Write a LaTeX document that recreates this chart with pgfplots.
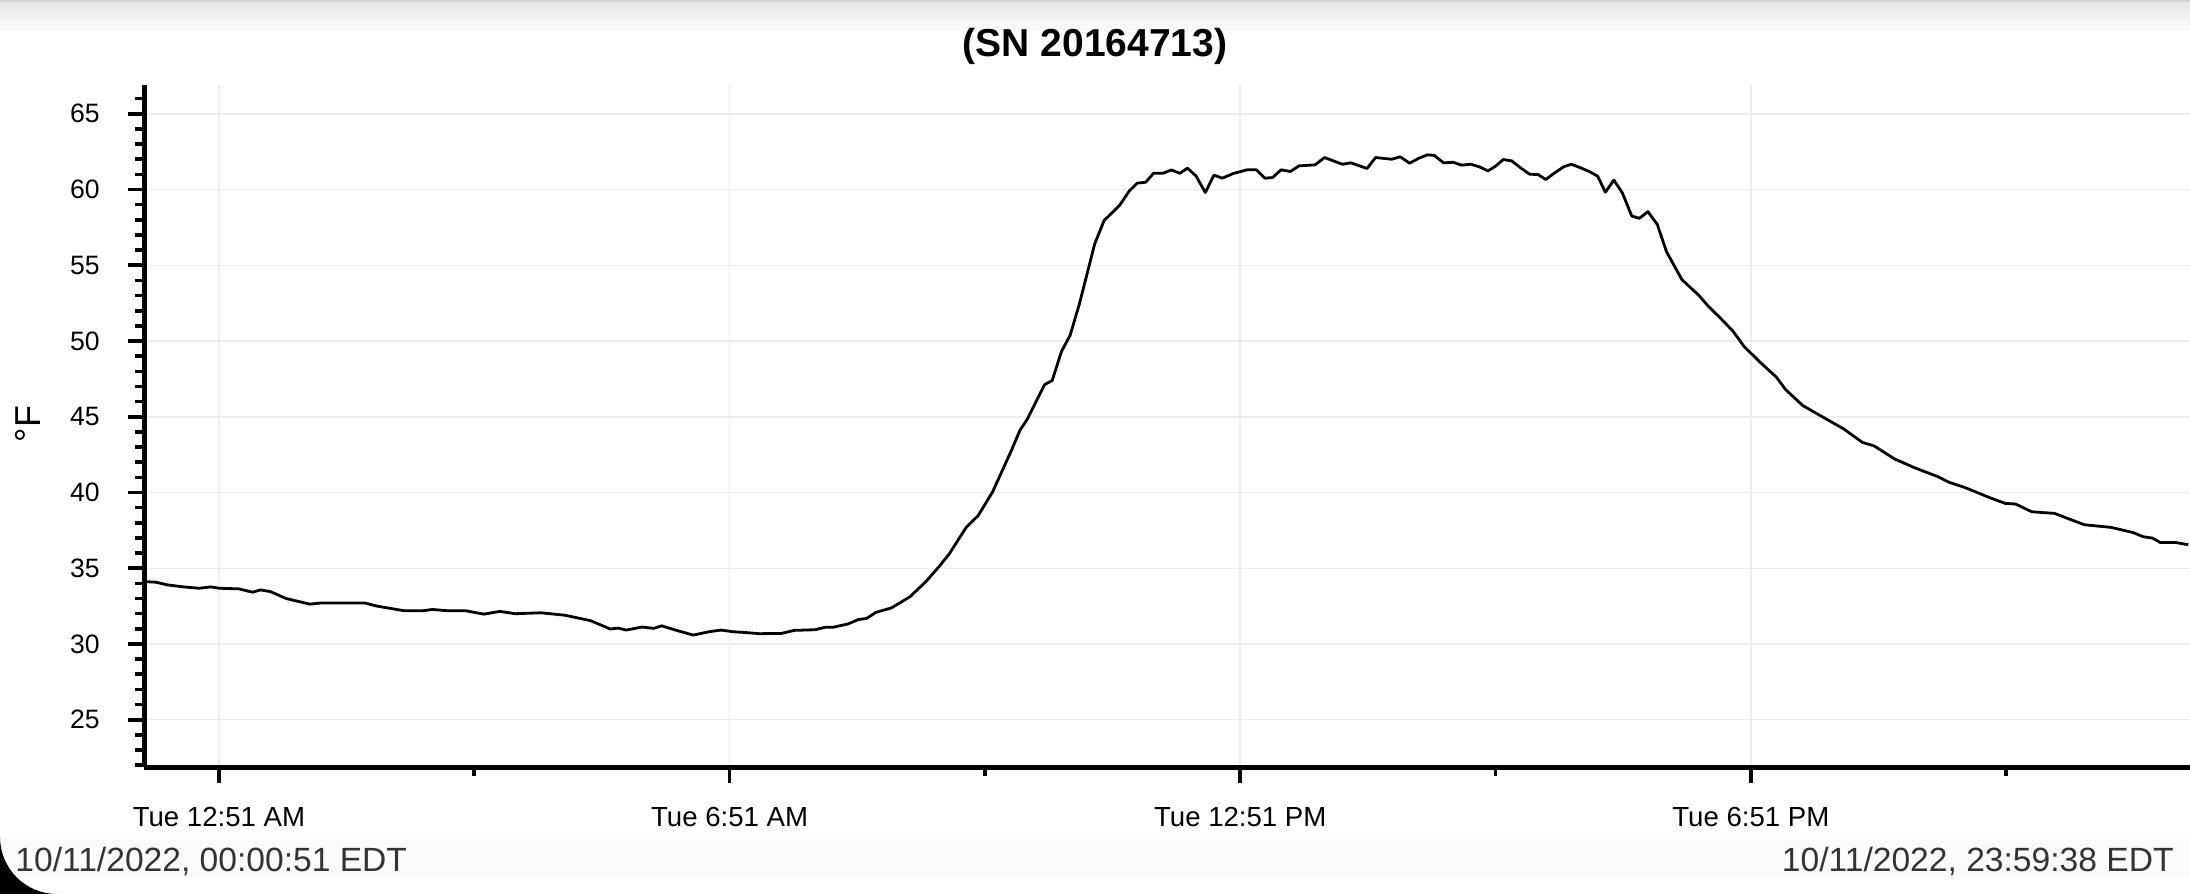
\documentclass[border=0pt]{standalone}
\usepackage{fontspec}
\setmainfont{Liberation Sans}
\usepackage{pgfplots}
\pgfplotsset{compat=1.18}
\usepackage{pgfplotstable}
\definecolor{gridgray}{HTML}{EEEEEE}
\definecolor{datetext}{HTML}{333333}

\pgfplotstableread{
h t
-0.03 34.12
0.107 34.08
0.246 33.90
0.432 33.77
0.618 33.68
0.757 33.77
0.85 33.68
1.082 33.64
1.245 33.42
1.338 33.57
1.454 33.46
1.640 33.00
1.918 32.63
2.034 32.70
2.569 32.70
2.708 32.50
3.033 32.19
3.242 32.19
3.358 32.28
3.544 32.19
3.753 32.19
3.962 31.97
4.148 32.15
4.334 32.00
4.635 32.06
4.914 31.90
5.216 31.54
5.448 30.99
5.541 31.05
5.634 30.92
5.820 31.12
5.959 31.03
6.052 31.20
6.238 30.88
6.424 30.59
6.609 30.81
6.749 30.92
6.888 30.81
7.027 30.76
7.204 30.68
7.46 30.70
7.61 30.90
7.85 30.94
7.97 31.10
8.06 31.10
8.24 31.32
8.36 31.61
8.46 31.69
8.57 32.09
8.75 32.38
8.97 33.12
9.16 34.14
9.32 35.17
9.43 35.94
9.63 37.70
9.77 38.47
9.94 40.04
10.16 42.76
10.26 44.09
10.35 44.86
10.55 47.12
10.64 47.39
10.75 49.32
10.85 50.36
10.96 52.45
11.14 56.41
11.25 57.95
11.43 58.94
11.55 59.93
11.64 60.42
11.74 60.48
11.83 61.07
11.94 61.07
12.04 61.29
12.14 61.07
12.23 61.41
12.33 60.90
12.44 59.80
12.54 60.95
12.64 60.75
12.77 61.06
12.93 61.30
13.04 61.30
13.14 60.75
13.23 60.79
13.33 61.30
13.44 61.19
13.54 61.56
13.73 61.63
13.84 62.11
14.05 61.67
14.15 61.76
14.34 61.39
14.44 62.11
14.63 62.00
14.73 62.16
14.84 61.74
14.95 62.07
15.05 62.29
15.13 62.25
15.24 61.76
15.35 61.80
15.45 61.61
15.56 61.67
15.66 61.50
15.76 61.23
15.85 61.54
15.94 61.98
16.04 61.89
16.14 61.45
16.25 61.01
16.35 60.99
16.44 60.66
16.54 61.08
16.65 61.50
16.74 61.67
16.86 61.41
16.95 61.19
17.05 60.88
17.14 59.82
17.24 60.62
17.34 59.78
17.45 58.25
17.54 58.10
17.64 58.54
17.75 57.70
17.86 55.88
18.04 54.05
18.24 53.01
18.35 52.29
18.48 51.58
18.64 50.65
18.77 49.64
18.97 48.54
19.15 47.61
19.26 46.78
19.46 45.74
19.63 45.19
19.94 44.20
20.16 43.31
20.30 43.07
20.54 42.21
20.78 41.62
21.05 41.04
21.18 40.67
21.36 40.34
21.67 39.63
21.84 39.28
21.96 39.24
22.15 38.73
22.42 38.62
22.59 38.25
22.77 37.87
23.08 37.70
23.34 37.36
23.46 37.08
23.57 36.99
23.66 36.70
23.84 36.70
23.99 36.55
}\temps

\begin{document}
\begin{tikzpicture}
\path[use as bounding box] (0pt,0pt) rectangle (1095pt,-447pt);
\begin{scope}[x=0.5pt,y=-0.5pt]
  \fill[white] (0,0) rectangle (2190,894);
  \shade[top color=black!10, bottom color=white] (0,0) rectangle (2190,34);
  \fill[black!18] (0,0) rectangle (2190,2);
  \fill[black!1.5] (0,839) rectangle (2190,878);
\end{scope}
\begin{axis}[
  at={(72pt,-383.5pt)}, anchor=south west,
  scale only axis, width=1023pt, height=341pt,
  xmin=-0.031, xmax=24.01, ymin=21.88, ymax=66.9,
  axis x line=bottom, axis y line=left,
  axis line style={-, line width=2.5pt, black},
  xtick={0.85,6.85,12.85,18.85},
  xticklabels={Tue 12:51 AM, Tue 6:51 AM, Tue 12:51 PM, Tue 6:51 PM},
  minor xtick={3.85,9.85,15.85,21.85},
  ytick={25,30,...,65},
  minor ytick={22,23,...,66},
  tick align=outside,
  major tick length=8.2pt, minor tick length=4.7pt,
  tick style={black, line width=1.8pt},
  grid=major,
  major grid style={color=gridgray, line width=0.75pt},
  /pgf/number format/assume math mode=true,
  yticklabel style={font=\fontsize{13.3}{15}\selectfont, anchor=east, inner sep=0pt, xshift=-13.8pt},
  xticklabel style={font=\fontsize{13.8}{15}\selectfont, anchor=base, inner sep=0pt, yshift=-21.65pt},
  clip=true,
]
\addplot[black, line width=1.4pt, line join=round] table[x=h, y=t] {\temps};
\end{axis}
\begin{scope}[x=0.5pt,y=-0.5pt]
  \node[anchor=base, font=\fontsize{19.5}{21}\selectfont\bfseries] at (1095,56.7) {(SN 20164713)};
  \node[rotate=90, font=\fontsize{18}{20}\selectfont, inner sep=0pt] at (28,424) {°F};
  \node[anchor=base west, inner sep=0pt, text=datetext, font=\fontsize{16.8}{18}\selectfont] at (15,871.7) {10/11/2022, 00:00:51 EDT};
  \node[anchor=base east, inner sep=0pt, text=datetext, font=\fontsize{16.8}{18}\selectfont] at (2174,871.7) {10/11/2022, 23:59:38 EDT};
  \fill[black] (0,837) .. controls (0,868.5) and (25.5,894) .. (57,894) -- (0,894) -- cycle;
\end{scope}
\end{tikzpicture}
\end{document}
